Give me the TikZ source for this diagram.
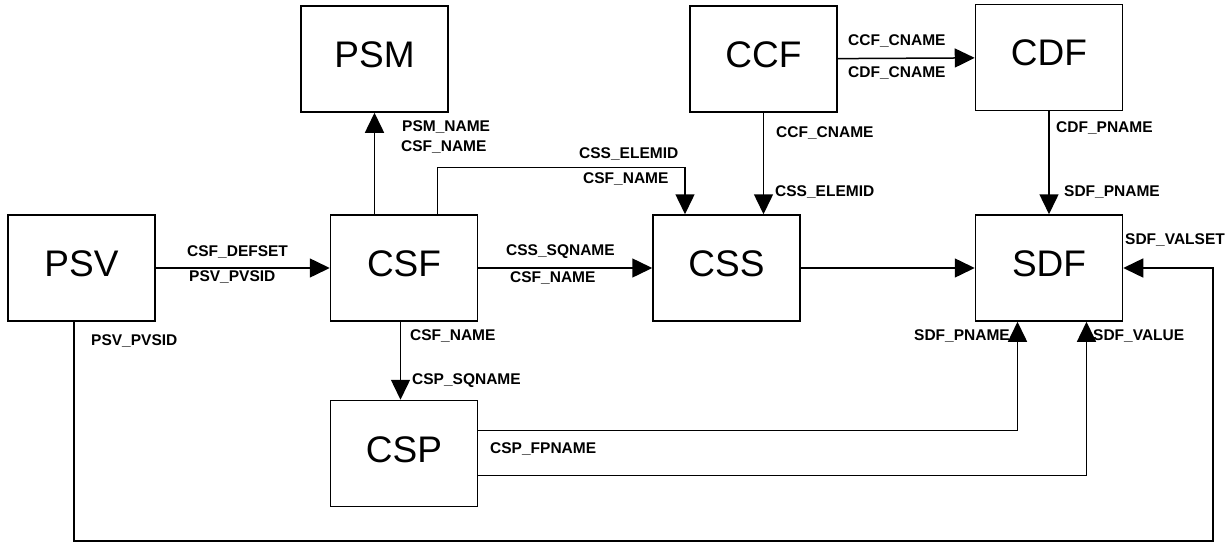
\documentclass[tikz,border=0pt]{standalone}
\usepackage{fontspec}
\setmainfont{Liberation Sans}
\usepackage{tikz}
\usetikzlibrary{positioning, arrows.meta}
\def\nodedistance{174pt}
\tikzstyle{arrow} = [black, -{Triangle[length=20pt, width=19pt]}, line width=1.5pt]
\tikzstyle{tag} = [inner sep=0pt, text height=11.5pt, text depth=0pt, anchor=west, font=\fontsize{15.5pt}{15.5pt}\selectfont\bfseries]
\newcommand{\tikztablenode}{\node[
  draw=black, rectangle, line width=1.5pt, minimum width=147pt, minimum height=106pt, inner sep=0,
  text height=27pt, text depth=10pt, font=\fontsize{37pt}{37pt}\selectfont
]}

\begin{document}
\begin{tikzpicture}[x=1pt, y=-1pt, node distance=\nodedistance]
    \useasboundingbox (0,0) rectangle (1231,543);

    % tables
    \tikztablenode at (81.5, 268)          (PSV) {PSV};
    \tikztablenode [right = of PSV]        (CSF) {CSF};
    \tikztablenode [right = of CSF]        (CSS) {CSS};
    \tikztablenode [right = of CSS]        (SDF) {SDF};
    \tikztablenode at (374.5, 59)          (PSM) {PSM};
    \tikztablenode at (763.5, 59)          (CCF) {CCF};
    \tikztablenode [above = 103pt of SDF]  (CDF) {CDF};
    \tikztablenode [below = 78pt of CSF]   (CSP) {CSP};
    \coordinate (loop) at (1213, 541);

    % keys
    \node[tag] (psm-psm)  at (402, 126)  {PSM\_NAME};
    \node[tag] (psm-csf)  at (401, 146)  {CSF\_NAME};
    \node[tag] (elem-css) at (579, 153)  {CSS\_ELEMID};
    \node[tag] (elem-csf) at (583, 178)  {CSF\_NAME};
    \node[tag] (def-csf)  at (187, 251)  {CSF\_DEFSET};
    \node[tag] (def-psv)  at (189, 276)  {PSV\_PVSID};
    \node[tag] (sq-css)   at (506, 250)  {CSS\_SQNAME};
    \node[tag] (sq-csf)   at (510, 277)  {CSF\_NAME};
    \node[tag] (cc-ccf)   at (848, 40)   {CCF\_CNAME};
    \node[tag] (cc-cdf)   at (848, 72)   {CDF\_CNAME};
    \node[tag] (ce-ccf)   at (776, 132)  {CCF\_CNAME};
    \node[tag] (ce-css)   at (775, 191)  {CSS\_ELEMID};
    \node[tag] (cp-cdf)   at (1056, 127) {CDF\_PNAME};
    \node[tag] (cp-sdf)   at (1064, 191) {SDF\_PNAME};
    \node[tag] (val-sdf)  at (1125, 239) {SDF\_VALSET};
    \node[tag] (val-psv)  at (91, 340)   {PSV\_PVSID};
    \node[tag] (sp-csf)   at (410, 335)  {CSF\_NAME};
    \node[tag] (sp-csp)   at (412, 379)  {CSP\_SQNAME};
    \node[tag] (fp-csp)   at (490, 448)  {CSP\_FPNAME};
    \node[tag] (fp-sdf)   at (914, 335)  {SDF\_PNAME};
    \node[tag] (fv-sdf)   at (1093, 335) {SDF\_VALUE};

    % arrows
    \draw[arrow] (PSV) -- (CSF);
    \draw[arrow] (CSF) -- (CSS);
    \draw[arrow] (CSS) -- (SDF);
    \draw[arrow] (CSF.north -| PSM.south) -- (PSM.south);
    \draw[arrow] ([xshift=33.5pt]CSF.north) |- ([xshift=-41.5pt, yshift=47pt]CSS.north) -- ([xshift=-41.5pt]CSS.north);
    \draw[arrow] (CCF.south) -- (CCF.south |- CSS.north);
    \draw[arrow] (CCF) -- (CDF);
    \draw[arrow] (CDF) -- (SDF);
    \draw[arrow] ([xshift=-3.5pt]CSF.south) -- ([xshift=-3.5pt]CSP.north);
    \draw[arrow] ([yshift=23pt]CSP.east) -| ([xshift=-31.5pt]SDF.south);
    \draw[arrow] ([yshift=-22pt]CSP.east) -| ([xshift=37.5pt]SDF.south);
    \draw[arrow] ([xshift=-7.5pt]PSV.south) |- (loop) |- (SDF.east);
\end{tikzpicture}
\end{document}
